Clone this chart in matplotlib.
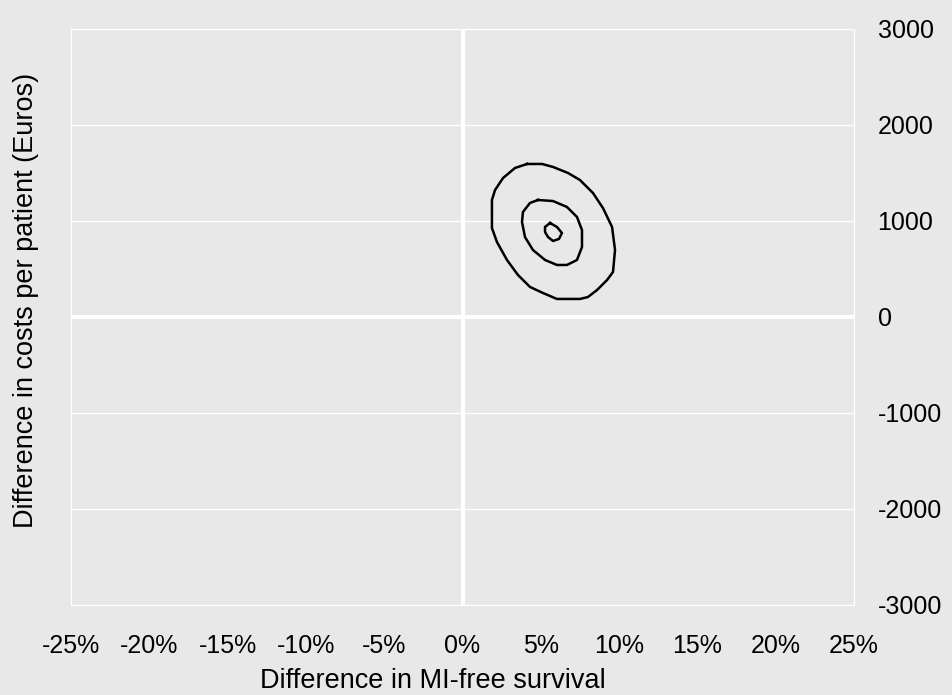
import matplotlib
matplotlib.use('Agg')
import matplotlib.pyplot as plt
import numpy as np

# contour lines of the joint distribution (difference in survival %, difference in costs EUR)
outer_x = [4.12, 5.08, 5.78, 6.74, 7.50, 8.33, 8.97, 9.55, 9.74, 9.61, 9.23, 8.59, 8.01, 7.50,
           6.03, 5.14, 4.31, 3.54, 2.84, 2.20, 1.88, 1.88, 2.08, 2.59, 3.35, 4.12]
outer_y = [1594, 1594, 1563, 1500, 1427, 1292, 1135, 938, 698, 469, 385, 281, 208, 188,
           188, 250, 313, 438, 594, 781, 927, 1219, 1323, 1448, 1552, 1594]

mid_x = [4.82, 5.78, 6.67, 7.31, 7.63, 7.63, 7.31, 6.67, 6.03, 5.27, 4.50, 3.99, 3.80, 3.86, 4.31, 4.82]
mid_y = [1219, 1208, 1146, 1042, 906, 729, 594, 542, 542, 594, 698, 833, 990, 1094, 1188, 1219]

inner_x = [5.59, 6.03, 6.35, 6.16, 5.78, 5.46, 5.27, 5.27, 5.59]
inner_y = [979, 938, 875, 813, 792, 833, 885, 938, 979]

x_ticks = [-25, -20, -15, -10, -5, 0, 5, 10, 15, 20, 25]
y_ticks = [-3000, -2000, -1000, 0, 1000, 2000, 3000]

bg = '#e8e8e8'
plt.rcParams['font.family'] = ['Liberation Sans', 'DejaVu Sans']

fig = plt.figure(figsize=(9.53, 6.95), dpi=100, facecolor=bg)
ax = fig.add_axes([71 / 953, 1 - 605 / 695, 783 / 953, 576 / 695])
ax.set_facecolor(bg)

for y in y_ticks:
    ax.axhline(y, color='white', lw=0.9 if y != 0 else 3, zorder=1)
ax.axvline(0, color='white', lw=3, zorder=1)

for xs, ys in [(outer_x, outer_y), (mid_x, mid_y), (inner_x, inner_y)]:
    ax.plot(xs, ys, color='black', lw=1.8, zorder=3)

ax.set_xlim(-25, 25)
ax.set_ylim(-3000, 3000)
ax.set_xticks(x_ticks)
ax.set_xticklabels([f'{t}%' for t in x_ticks])
ax.set_yticks(y_ticks)
ax.set_yticklabels([str(t) for t in y_ticks])
ax.yaxis.tick_right()
ax.tick_params(axis='both', length=0, labelsize=18, colors='black')
ax.tick_params(axis='x', pad=21)
ax.tick_params(axis='y', pad=17)

for s in ax.spines.values():
    s.set_color('white')
    s.set_linewidth(0.9)

ax.set_xlabel('Difference in MI-free survival', fontsize=19.5)
ax.xaxis.set_label_coords(0.462, -0.11)
ax.set_ylabel('Difference in costs per patient (Euros)', fontsize=19.5)
ax.yaxis.set_label_position('left')
ax.yaxis.set_label_coords(-0.041, 0.528)

fig.savefig('out.png', dpi=100, facecolor=bg)
